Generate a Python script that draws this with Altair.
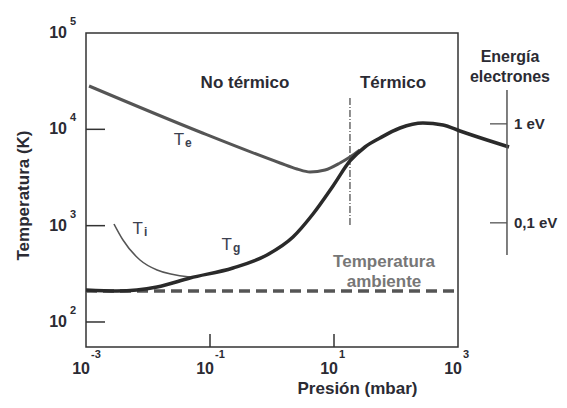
import altair as alt
import pandas as pd

FONT = "Liberation Sans"
INK = "#2b2b33"

# ---- data (pressure in mbar, temperature in K) ----
te_p = [0.00112, 0.069, 1.35, 2.53, 4.10, 7.16, 12.5, 18.1, 26.2]
te_t = [28170, 9382, 4473, 3875, 3606, 3783, 4473, 5162, 6101]

tg_p = [0.001, 0.00316, 0.0140, 0.0475, 0.235, 0.830, 2.18, 4.58, 9.64,
        18.1, 31.6, 55.2, 116, 272, 573, 1076, 2938, 6653]
tg_t = [214.8, 209.7, 230.8, 286.2, 363.5, 496.1, 762.6, 1321, 2580,
        4691, 6554, 8128, 10320, 11630, 11090, 9610, 7747, 6554]

ti_p = [0.00283, 0.00395, 0.00743, 0.0140, 0.0475]
ti_t = [1040, 709.9, 440.1, 346.5, 293.1]

ambient_t = 210
p_range = [0.001, 1000]

boundary_p = 18.1
boundary_t = [1016, 22180]

ev_axis_p = 6166
ev_axis_t = [496, 25600]
ev_tick_p0 = 3281
ev_ticks_t = [11400, 1070]
ev_labels = ["1 eV", "0,1 eV"]

y_ticks = [100, 1000, 10000, 100000]
y_exp = ["2", "3", "4", "5"]
x_ticks = [0.001, 0.1, 10, 1000]
x_exp = ["-3", "-1", "1", "3"]
x_inner_ticks = [0.1, 10]
y_inner_ticks = [100, 1000, 10000]

# ---- scales / axes ----
xs = alt.Scale(type="log", domain=[0.001, 1000], nice=False)
ys = alt.Scale(type="log", domain=[55.0, 100000], nice=False)
xax = alt.Axis(title="Presión (mbar)", labels=False, ticks=False, domain=False, grid=False,
               titleX=271, titleY=41, titleFont=FONT, titleFontSize=17, titleFontWeight="bold",
               titleColor=INK, titleBaseline="middle", titleAlign="center")
yax = alt.Axis(title="Temperatura (K)", labels=False, ticks=False, domain=False, grid=False,
               titleX=-63, titleY=162, titleAngle=270, titleFont=FONT, titleFontSize=17,
               titleFontWeight="bold", titleColor=INK, titleBaseline="middle", titleAlign="center")


def X(f="p"):
    return alt.X(f"{f}:Q", scale=xs, axis=xax)


def Y(f="t"):
    return alt.Y(f"{f}:Q", scale=ys, axis=yax)


te = alt.Chart(pd.DataFrame({"p": te_p, "t": te_t})).mark_line(
    color="#555555", strokeWidth=3, interpolate="monotone").encode(x=X(), y=Y())
tg = alt.Chart(pd.DataFrame({"p": tg_p, "t": tg_t})).mark_line(
    color="#2a2a2a", strokeWidth=3.5, interpolate="monotone").encode(x=X(), y=Y())
ti = alt.Chart(pd.DataFrame({"p": ti_p, "t": ti_t})).mark_line(
    color="#555555", strokeWidth=1.5, interpolate="monotone").encode(x=X(), y=Y())

ambient = alt.Chart(pd.DataFrame({"p": [p_range[0]], "p2": [p_range[1]], "t": [ambient_t]})).mark_rule(
    color="#555555", strokeWidth=3.5, strokeDash=[11, 6]).encode(x=X(), x2="p2:Q", y=Y())

boundary = alt.Chart(pd.DataFrame({"p": [boundary_p], "t": [boundary_t[0]], "t2": [boundary_t[1]]})).mark_rule(
    color="#444444", strokeWidth=1.2, strokeDash=[7, 2, 1, 2]).encode(x=X(), y=Y(), y2="t2:Q")

ev_axis = alt.Chart(pd.DataFrame({"p": [ev_axis_p], "t": [ev_axis_t[0]], "t2": [ev_axis_t[1]]})).mark_rule(
    color="#555555", strokeWidth=1.5).encode(x=X(), y=Y(), y2="t2:Q")
ev_tick = alt.Chart(pd.DataFrame({"p": [ev_tick_p0] * 2, "p2": [ev_axis_p] * 2, "t": ev_ticks_t})).mark_rule(
    color="#555555", strokeWidth=1.3).encode(x=X(), x2="p2:Q", y=Y())
ev_text = alt.Chart(pd.DataFrame({"p": [ev_axis_p] * 2, "t": ev_ticks_t, "label": ev_labels})).mark_text(
    align="left", baseline="middle", dx=7, font=FONT, fontSize=15, fontWeight="bold", color=INK
).encode(x=X(), y=Y(), text="label:N")
ev_title = alt.Chart(pd.DataFrame({"p": [ev_axis_p] * 2, "t": [56360, 34930],
                                   "label": ["Energía", "electrones"]})).mark_text(
    align="center", baseline="middle", dx=3, font=FONT, fontSize=16, fontWeight="bold", color=INK
).encode(x=X(), y=Y(), text="label:N")

regions = alt.Chart(pd.DataFrame({"p": [0.367, 89.5], "t": [30270, 30270],
                                  "label": ["No térmico", "Térmico"]})).mark_text(
    align="center", baseline="middle", font=FONT, fontSize=17, fontWeight="bold", color=INK
).encode(x=X(), y=Y(), text="label:N")

amb_text = alt.Chart(pd.DataFrame({"p": [64.0, 64.0], "t": [419.6, 260.1],
                                   "label": ["Temperatura", "ambiente"]})).mark_text(
    align="center", baseline="middle", font=FONT, fontSize=17, fontWeight="bold", color="#777777"
).encode(x=X(), y=Y(), text="label:N")

curve_lbl = pd.DataFrame({"p": [0.0381, 0.0083, 0.2265], "t": [6878, 819, 558.8],
                          "label": ["T", "T", "T"], "sub": ["e", "i", "g"]})
t_main = alt.Chart(curve_lbl).mark_text(
    align="right", baseline="alphabetic", font=FONT, fontSize=17, color="#3c4150"
).encode(x=X(), y=Y(), text="label:N")
t_sub = alt.Chart(curve_lbl).mark_text(
    align="left", baseline="alphabetic", dx=1, dy=2, font=FONT, fontSize=12, fontWeight="bold", color="#3c4150"
).encode(x=X(), y=Y(), text="sub:N")

# inward ticks
yt = alt.Chart(pd.DataFrame({"t": y_inner_ticks})).mark_rule(color="#333333", strokeWidth=1.5).encode(
    x=alt.value(0), x2=alt.value(19), y=Y())
xt = alt.Chart(pd.DataFrame({"p": x_inner_ticks})).mark_rule(color="#333333", strokeWidth=1.5).encode(
    x=X(), y=alt.value(314), y2=alt.value(301))

# tick labels with superscripts
ylab_df = pd.DataFrame({"t": y_ticks, "base": ["10"] * 4, "e": y_exp})
ylab = alt.Chart(ylab_df).mark_text(
    align="right", baseline="middle", font=FONT, fontSize=16, fontWeight="bold", color=INK
).encode(x=alt.value(-19), y=Y(), text="base:N")
yexp = alt.Chart(ylab_df).mark_text(
    align="left", baseline="middle", dy=-11, font=FONT, fontSize=11, fontWeight="bold", color=INK
).encode(x=alt.value(-16), y=Y(), text="e:N")

xlab_df = pd.DataFrame({"p": x_ticks, "base": ["10"] * 4, "e": x_exp})
xlab = alt.Chart(xlab_df).mark_text(
    align="right", baseline="middle", dx=4, font=FONT, fontSize=16, fontWeight="bold", color=INK
).encode(x=X(), y=alt.value(336), text="base:N")
xexp = alt.Chart(xlab_df).mark_text(
    align="left", baseline="middle", dx=5, font=FONT, fontSize=11, fontWeight="bold", color=INK
).encode(x=X(), y=alt.value(322), text="e:N")

chart = alt.layer(
    ambient, boundary, te, ti, tg, ev_axis, ev_tick, ev_text, ev_title,
    regions, amb_text, t_main, t_sub, yt, xt, ylab, yexp, xlab, xexp
).properties(
    width=372, height=314,
    autosize=alt.AutoSizeParams(type="none"),
    padding={"left": 78, "top": 25, "right": 100, "bottom": 50},
).configure_view(stroke="#333333", strokeWidth=1.5)

chart.save("out.html", embed_options={"renderer": "svg", "actions": False})
